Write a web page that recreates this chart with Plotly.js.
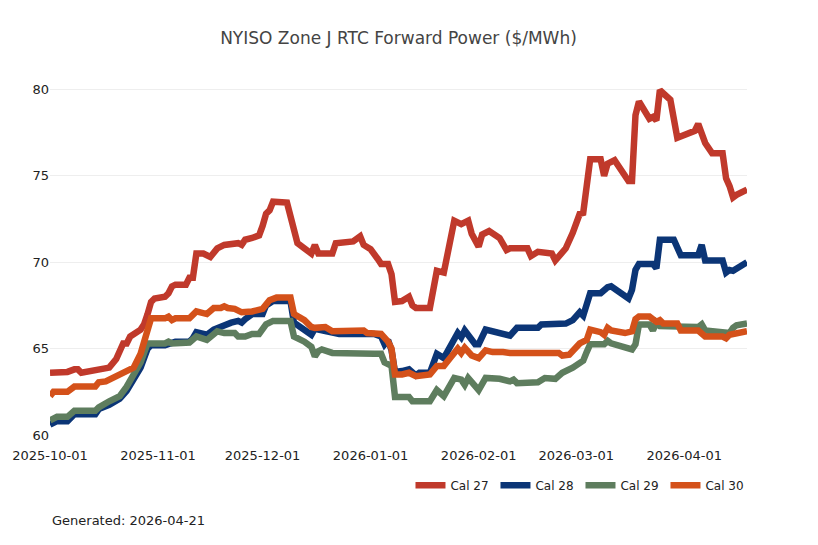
<!DOCTYPE html>
<html>
<head>
<meta charset="utf-8">
<script src="https://cdn.plot.ly/plotly-3.0.1.min.js"></script>
<style>html,body{margin:0;padding:0;background:#fff;}#chart{width:818px;height:545px;}</style>
</head>
<body>
<div id="chart"></div>
<script>
// Cal 27
const dates27 = ["2025-10-01","2025-10-03","2025-10-06","2025-10-08","2025-10-09","2025-10-10","2025-10-13","2025-10-17","2025-10-18","2025-10-20","2025-10-21","2025-10-22","2025-10-23","2025-10-24","2025-10-27","2025-10-28","2025-10-29","2025-10-30","2025-10-31","2025-11-03","2025-11-04","2025-11-05","2025-11-06","2025-11-09","2025-11-10","2025-11-11","2025-11-12","2025-11-14","2025-11-16","2025-11-18","2025-11-20","2025-11-24","2025-11-25","2025-11-26","2025-11-28","2025-11-30","2025-12-01","2025-12-02","2025-12-03","2025-12-04","2025-12-08","2025-12-09","2025-12-10","2025-12-11","2025-12-13","2025-12-15","2025-12-16","2025-12-17","2025-12-21","2025-12-22","2025-12-27","2025-12-29","2025-12-30","2026-01-01","2026-01-03","2026-01-04","2026-01-06","2026-01-07","2026-01-08","2026-01-10","2026-01-12","2026-01-13","2026-01-14","2026-01-18","2026-01-20","2026-01-22","2026-01-25","2026-01-27","2026-01-29","2026-01-30","2026-02-01","2026-02-02","2026-02-04","2026-02-07","2026-02-09","2026-02-10","2026-02-15","2026-02-16","2026-02-18","2026-02-22","2026-02-23","2026-02-26","2026-02-28","2026-03-02","2026-03-03","2026-03-05","2026-03-08","2026-03-09","2026-03-10","2026-03-12","2026-03-16","2026-03-17","2026-03-18","2026-03-19","2026-03-22","2026-03-23","2026-03-24","2026-03-25","2026-03-28","2026-03-30","2026-04-04","2026-04-05","2026-04-07","2026-04-09","2026-04-12","2026-04-13","2026-04-14","2026-04-15","2026-04-16","2026-04-19"];
const cal27 = [63.6,63.65,63.65,63.8,63.8,63.6,63.7,63.85,63.9,64.4,64.8,65.3,65.3,65.7,66.1,66.4,67.0,67.7,67.9,68.0,68.2,68.6,68.7,68.7,69.1,69.1,70.5,70.5,70.3,70.8,71.0,71.1,71.0,71.3,71.4,71.55,72.1,72.8,73.0,73.5,73.45,72.7,72.0,71.1,70.8,70.5,71.0,70.5,70.5,71.1,71.2,71.5,71.0,70.75,70.2,69.9,69.9,69.3,67.7,67.75,68.0,67.5,67.35,67.35,69.5,69.4,72.4,72.2,72.4,71.65,70.9,71.6,71.8,71.4,70.7,70.8,70.8,70.35,70.6,70.5,70.1,70.8,71.7,72.8,72.85,75.95,75.95,75.0,75.7,75.9,74.7,74.7,78.5,79.3,78.3,78.4,78.2,79.95,79.4,77.2,77.6,78.0,76.9,76.3,76.3,74.85,74.4,73.75,73.9,74.2];

// Cal 28
const dates28 = ["2025-10-01","2025-10-03","2025-10-06","2025-10-08","2025-10-14","2025-10-15","2025-10-18","2025-10-21","2025-10-23","2025-10-25","2025-10-27","2025-10-29","2025-10-30","2025-11-03","2025-11-05","2025-11-06","2025-11-10","2025-11-11","2025-11-12","2025-11-15","2025-11-17","2025-11-19","2025-11-22","2025-11-24","2025-11-25","2025-11-26","2025-11-28","2025-12-01","2025-12-02","2025-12-04","2025-12-09","2025-12-10","2025-12-13","2025-12-15","2025-12-16","2025-12-20","2025-12-23","2026-01-02","2026-01-04","2026-01-05","2026-01-06","2026-01-07","2026-01-08","2026-01-10","2026-01-12","2026-01-14","2026-01-15","2026-01-18","2026-01-20","2026-01-22","2026-01-24","2026-01-26","2026-01-27","2026-01-28","2026-01-31","2026-02-01","2026-02-03","2026-02-06","2026-02-10","2026-02-12","2026-02-18","2026-02-19","2026-02-26","2026-02-28","2026-03-02","2026-03-03","2026-03-05","2026-03-08","2026-03-10","2026-03-11","2026-03-16","2026-03-17","2026-03-18","2026-03-19","2026-03-23","2026-03-24","2026-03-25","2026-03-29","2026-03-31","2026-04-05","2026-04-06","2026-04-07","2026-04-12","2026-04-13","2026-04-14","2026-04-15","2026-04-19"];
const cal28 = [60.6,60.8,60.8,61.2,61.2,61.5,61.75,62.1,62.55,63.3,63.9,65.0,65.2,65.2,65.3,65.4,65.4,65.6,65.95,65.8,66.1,66.3,66.5,66.6,66.5,66.7,67.0,67.0,67.5,67.75,67.75,66.5,66.1,65.8,66.15,65.95,65.85,65.85,65.7,65.25,65.5,64.9,63.65,63.7,63.8,63.45,63.6,63.6,64.7,64.45,65.15,65.9,65.65,66.05,65.25,65.25,66.1,65.95,65.75,66.2,66.2,66.4,66.45,66.65,67.1,66.9,68.2,68.2,68.55,68.6,67.9,68.4,69.55,69.9,69.9,69.65,71.3,71.3,70.4,70.4,71.0,70.1,70.1,69.4,69.55,69.5,70.0];

// Cal 29
const dates29 = ["2025-10-01","2025-10-03","2025-10-06","2025-10-08","2025-10-14","2025-10-15","2025-10-18","2025-10-21","2025-10-23","2025-10-25","2025-10-27","2025-10-29","2025-11-03","2025-11-04","2025-11-05","2025-11-10","2025-11-12","2025-11-15","2025-11-18","2025-11-20","2025-11-23","2025-11-24","2025-11-26","2025-11-28","2025-11-30","2025-12-02","2025-12-04","2025-12-09","2025-12-10","2025-12-13","2025-12-15","2025-12-16","2025-12-17","2025-12-18","2025-12-21","2026-01-02","2026-01-04","2026-01-05","2026-01-07","2026-01-08","2026-01-12","2026-01-13","2026-01-18","2026-01-20","2026-01-22","2026-01-25","2026-01-27","2026-01-28","2026-01-29","2026-02-01","2026-02-03","2026-02-07","2026-02-10","2026-02-11","2026-02-12","2026-02-18","2026-02-20","2026-02-23","2026-02-24","2026-02-25","2026-02-28","2026-03-03","2026-03-04","2026-03-05","2026-03-09","2026-03-10","2026-03-11","2026-03-17","2026-03-18","2026-03-19","2026-03-22","2026-03-23","2026-03-24","2026-03-25","2026-04-05","2026-04-06","2026-04-07","2026-04-12","2026-04-14","2026-04-15","2026-04-16","2026-04-19"];
const cal29 = [60.85,61.05,61.05,61.4,61.4,61.6,61.95,62.25,62.8,63.45,64.2,65.3,65.3,65.4,65.3,65.35,65.7,65.5,66.0,65.9,65.9,65.7,65.7,65.85,65.85,66.4,66.6,66.6,65.7,65.4,65.1,64.55,64.85,64.95,64.75,64.7,64.7,64.2,64.0,62.2,62.2,61.95,61.95,62.6,62.25,63.3,63.2,62.9,63.3,62.6,63.3,63.25,63.1,63.2,63.0,63.05,63.3,63.25,63.4,63.6,63.9,64.3,64.8,65.25,65.25,65.45,65.3,64.95,65.25,66.4,66.4,66.05,66.5,66.3,66.25,66.4,66.05,66.0,65.9,66.2,66.35,66.45];

// Cal 30
const dates30 = ["2025-10-01","2025-10-02","2025-10-06","2025-10-08","2025-10-14","2025-10-15","2025-10-17","2025-10-20","2025-10-21","2025-10-23","2025-10-25","2025-10-27","2025-10-28","2025-10-30","2025-11-03","2025-11-04","2025-11-05","2025-11-06","2025-11-10","2025-11-11","2025-11-12","2025-11-15","2025-11-17","2025-11-19","2025-11-20","2025-11-21","2025-11-23","2025-11-25","2025-11-28","2025-12-01","2025-12-03","2025-12-05","2025-12-09","2025-12-10","2025-12-13","2025-12-15","2025-12-16","2025-12-19","2025-12-21","2025-12-30","2025-12-31","2026-01-04","2026-01-06","2026-01-07","2026-01-08","2026-01-10","2026-01-12","2026-01-14","2026-01-18","2026-01-20","2026-01-22","2026-01-24","2026-01-26","2026-01-27","2026-01-28","2026-01-30","2026-02-01","2026-02-03","2026-02-05","2026-02-08","2026-02-10","2026-02-24","2026-02-25","2026-02-27","2026-03-02","2026-03-04","2026-03-05","2026-03-08","2026-03-09","2026-03-10","2026-03-11","2026-03-15","2026-03-17","2026-03-18","2026-03-19","2026-03-22","2026-03-24","2026-03-25","2026-03-26","2026-03-30","2026-03-31","2026-04-05","2026-04-07","2026-04-12","2026-04-13","2026-04-14","2026-04-16","2026-04-19"];
const cal30 = [62.25,62.5,62.5,62.8,62.8,63.05,63.1,63.4,63.45,63.65,63.9,64.7,65.5,66.75,66.75,66.85,66.65,66.75,66.75,66.9,67.15,67.0,67.35,67.35,67.45,67.35,67.3,67.1,67.15,67.3,67.8,67.95,67.95,67.0,66.65,66.25,66.2,66.25,66.0,66.05,65.9,65.85,65.4,65.0,63.5,63.5,63.6,63.4,63.5,64.0,64.0,64.5,65.0,64.75,65.05,64.6,64.45,64.9,64.8,64.8,64.75,64.75,64.6,64.65,65.3,65.5,66.1,65.95,65.8,66.2,66.05,65.9,66.0,66.7,66.85,66.85,66.55,66.65,66.45,66.45,66.05,66.05,65.7,65.7,65.6,65.8,65.9,66.0];

const seriesNames = ["Cal 27","Cal 28","Cal 29","Cal 30"];
const seriesColors = ["#c0392b","#0b3576","#5e7d5e","#d4511a"];
const yTicks = [60,65,70,75,80];

const xs = [dates27, dates28, dates29, dates30];
const ys = [cal27, cal28, cal29, cal30];

const font = "DejaVu Sans, Verdana, sans-serif";

const traces = seriesNames.map((n, i) => ({
  type: "scatter",
  mode: "lines",
  name: n,
  x: xs[i],
  y: ys[i],
  line: { color: seriesColors[i], width: 6.5 }
}));

const layout = {
  width: 818,
  height: 545,
  paper_bgcolor: "#fff",
  plot_bgcolor: "#fff",
  font: { family: font, size: 13, color: "#222" },
  title: { text: "NYISO Zone J RTC Forward Power ($/MWh)", xref: "paper", x: 0.5, xanchor: "center", y: 0.93, yanchor: "middle", font: { family: font, size: 17, color: "#444" } },
  margin: { l: 50, r: 71, t: 60, b: 110 },
  showlegend: true,
  legend: { orientation: "h", x: 1.005, xanchor: "right", y: -0.095, yanchor: "top", entrywidth: 40, font: { family: font, size: 12 } },
  xaxis: {
    type: "date",
    tickformat: "%Y-%m-%d",
    dtick: "M1",
    tick0: "2025-10-01",
    showgrid: false,
    zeroline: false,
    showline: false,
    ticks: "",
    ticklabelstandoff: 11,
    tickfont: { family: font, size: 13, color: "#222" }
  },
  yaxis: {
    range: [60, 81.7],
    tickvals: yTicks,
    showgrid: true,
    gridcolor: "#eeeeee",
    zeroline: false,
    showline: false,
    ticks: "",
    tickfont: { family: font, size: 13, color: "#222" }
  },
  annotations: [{
    text: "Generated: 2026-04-21",
    xref: "paper", yref: "paper",
    x: 0, xanchor: "left",
    y: -0.227, yanchor: "middle",
    showarrow: false,
    font: { family: font, size: 13, color: "#222" }
  }]
};

Plotly.newPlot("chart", traces, layout, { displayModeBar: false, staticPlot: true });
</script>
</body>
</html>
